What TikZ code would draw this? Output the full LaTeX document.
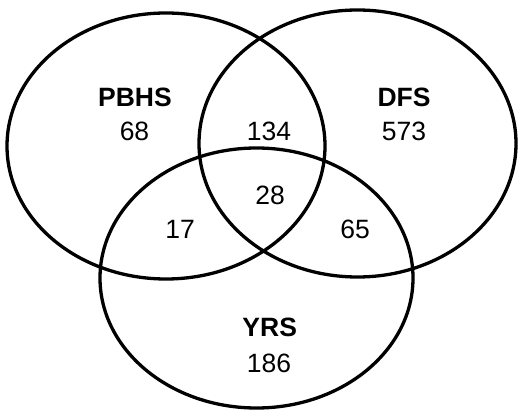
\documentclass[tikz,border=0pt]{standalone}
\usepackage{fontspec}
\setmainfont{Liberation Sans}
\usetikzlibrary{shapes.geometric}
\begin{document}
\begin{tikzpicture}[x=1pt,y=-1pt,
  setshape/.style={ellipse, draw=black, line width=3.3pt, inner sep=0pt},
  setname/.style={inner sep=0pt, anchor=center, font=\fontsize{26.5}{26.5}\selectfont\bfseries},
  count/.style={inner sep=0pt, anchor=center, font=\fontsize{26.5}{26.5}\selectfont}]
\useasboundingbox (0,0) rectangle (518,411);
\node[setshape, minimum width=318pt, minimum height=266pt] (pbhs) at (166,146) {};
\node[setshape, minimum width=317pt, minimum height=267pt] (dfs) at (357.5,143.5) {};
\node[setshape, minimum width=313pt, minimum height=260pt] (yrs) at (256.5,278) {};
\node[setname] (lp) at (135,97.5) {PBHS};
\node[count] (np) at (134.5,131.7) {68};
\node[setname] (ld) at (404,97.5) {DFS};
\node[count] (nd) at (404,131.7) {573};
\node[count] (npd) at (269,131.7) {134};
\node[count] (nall) at (270,195) {28};
\node[count] (npy) at (180,229) {17};
\node[count] (ndy) at (355,229) {65};
\node[setname] (ly) at (269.7,327) {YRS};
\node[count] (ny) at (269,363) {186};
\end{tikzpicture}
\end{document}
